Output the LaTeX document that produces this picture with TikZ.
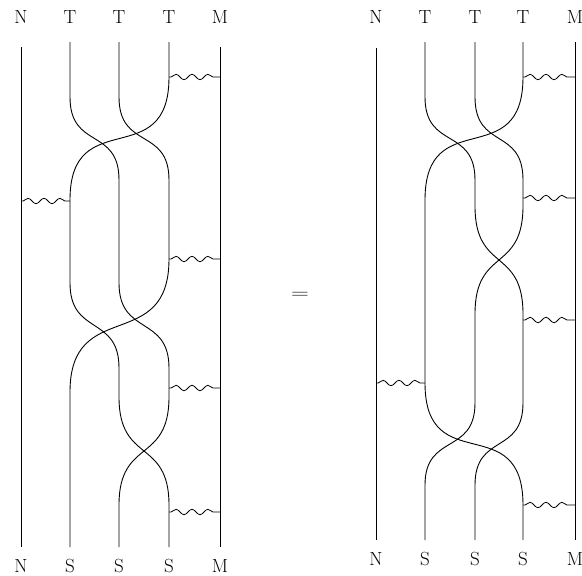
\documentclass[tikz,border=0pt]{standalone}
\usepackage{graphicx}
\usetikzlibrary{decorations.pathmorphing}
\begin{document}
\begin{tikzpicture}[x=1pt,y=-1pt,
  strand/.style={line width=0.9pt},
  wave/.style={line width=0.8pt, decorate, decoration={snake, segment length=16pt, amplitude=2.7pt, pre length=2pt, post length=1pt}},
  lab/.style={font=\fontsize{19}{23}\selectfont, inner sep=0pt, anchor=base}]
\useasboundingbox (0,0) rectangle (582,576);
% ---------- labels ----------
\foreach \x/\t/\n in {21/N/1,70/T/2,119/T/3,169/T/4,220/M/5}
  \node[lab] (Ltop\n) at (\x,23) {\t};
\foreach \x/\t/\n in {21/N/1,70/S/2,119/S/3,169/S/4,220/M/5}
  \node[lab] (Lbot\n) at (\x,572) {\t};
\foreach \x/\t/\n in {376/N/1,425/T/2,475/T/3,523/T/4,575/M/5}
  \node[lab] (Rtop\n) at (\x,23) {\t};
\foreach \x/\t/\n in {376/N/1,425/S/2,475/S/3,523/S/4,575/M/5}
  \node[lab] (Rbot\n) at (\x,565) {\t};
\node[font=\fontsize{19}{23}\selectfont, inner sep=0pt] (eq) at (300,295) {\scalebox{1.43}[1]{$=$}};
% ---------- left diagram ----------
\coordinate (LN0) at (21,47);  \coordinate (LN1) at (21,547);
\coordinate (LM0) at (220,47); \coordinate (LM1) at (220,547);
\coordinate (LA0) at (70,42);  \coordinate (LA1) at (119,547);
\coordinate (LB0) at (119,42); \coordinate (LB1) at (70,547);
\coordinate (LC0) at (169,42); \coordinate (LC1) at (169,547);
\draw[strand] (LN0) -- (LN1);
\draw[strand] (LM0) -- (LM1);
\draw[strand] (LA0) -- (70,97) .. controls (70,150) and (119,127) .. (119,180) -- (119,283)
  .. controls (119,336) and (169,315) .. (169,368) -- (169,397)
  .. controls (169,464) and (119,438) .. (119,505) -- (LA1);
\draw[strand] (LB0) -- (119,97) .. controls (119,150) and (169,127) .. (169,180) -- (169,259)
  .. controls (169,355) and (70,296) .. (70,392) -- (LB1);
\draw[strand] (LC0) -- (169,77) .. controls (169,174) and (70,103) .. (70,200) -- (70,283)
  .. controls (70,336) and (119,315) .. (119,368) -- (119,397)
  .. controls (119,464) and (169,438) .. (169,505) -- (LC1);
\coordinate (Lw1a) at (169,77);  \coordinate (Lw1b) at (220,77);
\coordinate (Lw2a) at (21,201);  \coordinate (Lw2b) at (70,201);
\coordinate (Lw3a) at (169,259); \coordinate (Lw3b) at (220,259);
\coordinate (Lw4a) at (169,388); \coordinate (Lw4b) at (220,388);
\coordinate (Lw5a) at (169,512); \coordinate (Lw5b) at (220,512);
\foreach \i in {1,...,5} \draw[wave] (Lw\i a) -- (Lw\i b);
% ---------- right diagram ----------
\coordinate (RN0) at (376,48);  \coordinate (RN1) at (376,540);
\coordinate (RM0) at (575,42);  \coordinate (RM1) at (575,540);
\coordinate (RA0) at (425,42);  \coordinate (RA1) at (475,540);
\coordinate (RB0) at (475,42);  \coordinate (RB1) at (425,540);
\coordinate (RC0) at (523,42);  \coordinate (RC1) at (523,540);
\draw[strand] (RN0) -- (RN1);
\draw[strand] (RM0) -- (RM1);
\draw[strand] (RA0) -- (425,97) .. controls (425,150) and (475,127) .. (475,180) -- (475,206)
  .. controls (475,273) and (523,247) .. (523,314) -- (523,403)
  .. controls (523,455) and (475,433) .. (475,485) -- (RA1);
\draw[strand] (RB0) -- (475,97) .. controls (475,150) and (523,127) .. (523,180) -- (523,206)
  .. controls (523,273) and (475,247) .. (475,314) -- (475,403)
  .. controls (475,455) and (425,433) .. (425,485) -- (RB1);
\draw[strand] (RC0) -- (523,77) .. controls (523,174) and (425,103) .. (425,200) -- (425,383)
  .. controls (425,480) and (523,408) .. (523,505) -- (RC1);
\coordinate (Rw1a) at (523,77);  \coordinate (Rw1b) at (575,77);
\coordinate (Rw2a) at (523,198); \coordinate (Rw2b) at (575,198);
\coordinate (Rw3a) at (523,320); \coordinate (Rw3b) at (575,320);
\coordinate (Rw4a) at (376,383); \coordinate (Rw4b) at (425,383);
\coordinate (Rw5a) at (523,505); \coordinate (Rw5b) at (575,505);
\foreach \i in {1,...,5} \draw[wave] (Rw\i a) -- (Rw\i b);
\end{tikzpicture}
\end{document}
